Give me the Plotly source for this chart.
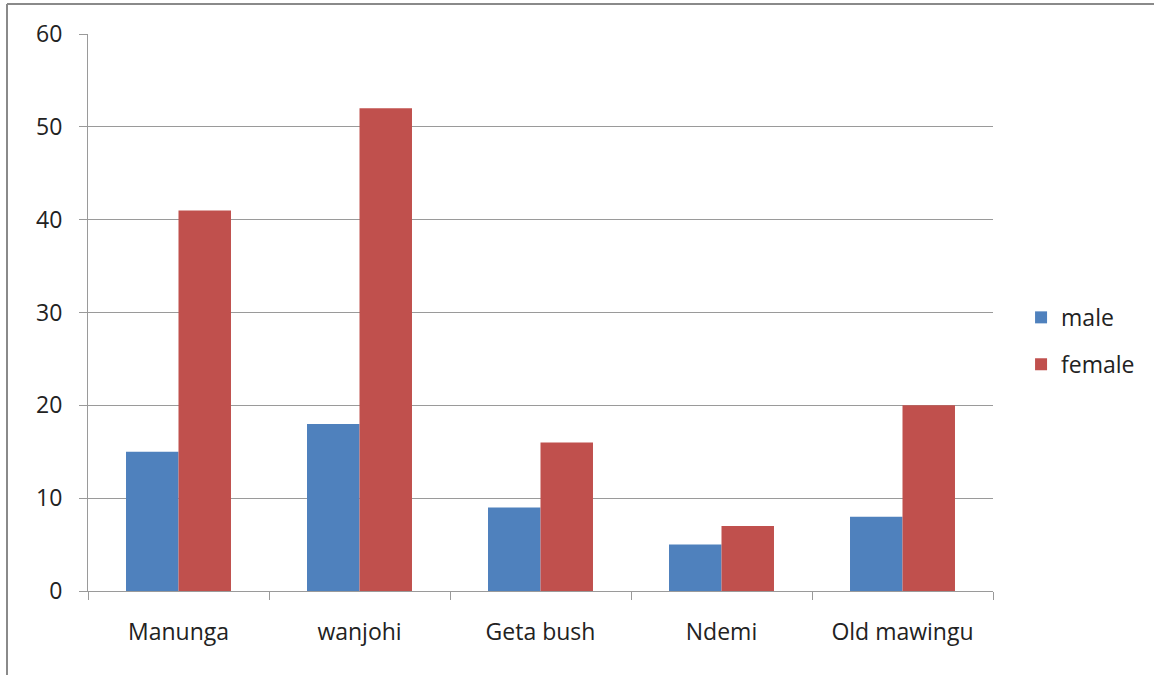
import plotly.graph_objects as go

# Respondents per site, split by gender
sites = ["Manunga", "wanjohi", "Geta bush", "Ndemi", "Old mawingu"]
male = [15, 18, 9, 5, 8]
female = [41, 52, 16, 7, 20]
y_ticks = [0, 10, 20, 30, 40, 50, 60]

FONT = "Open Sans, Calibri, sans-serif"
GRID = "#9a9a9a"

fig = go.Figure()
fig.add_trace(go.Bar(name="male", x=sites, y=male, marker=dict(color="#4F81BD", line=dict(width=0)),
                     legendgroup="m"))
fig.add_trace(go.Bar(name="female", x=sites, y=female, marker=dict(color="#C0504D", line=dict(width=0)),
                     legendgroup="f"))

fig.update_layout(
    width=1154, height=675,
    margin=dict(l=88, r=161, t=34, b=84),
    paper_bgcolor="white", plot_bgcolor="white",
    barmode="group", bargap=0.42, bargroupgap=0,
    font=dict(family=FONT, size=23, color="#222222"),
    showlegend=True,
    legend=dict(x=1.031, y=0.449, xanchor="left", yanchor="middle",
                tracegroupgap=14, font=dict(size=23), itemwidth=30),
    xaxis=dict(showline=True, linecolor=GRID, linewidth=1, ticks="outside",
               tickson="boundaries", ticklen=8, tickcolor=GRID, showgrid=False,
               tickfont=dict(size=23), ticklabelstandoff=20),
    yaxis=dict(range=[0, 60], tickvals=y_ticks, showline=True, linecolor=GRID, linewidth=1,
               ticks="outside", ticklen=8, tickcolor=GRID, showgrid=True, gridcolor=GRID,
               gridwidth=1, zeroline=False, tickfont=dict(size=23), ticklabelstandoff=12),
)

# Frame around the chart (left and top edges)
fig.add_shape(type="line", xref="paper", yref="paper", x0=-0.0895, x1=-0.0895, y0=-0.2, y1=1.054,
              line=dict(color="#8a8a8a", width=2))
fig.add_shape(type="line", xref="paper", yref="paper", x0=-0.0895, x1=1.2, y0=1.054, y1=1.054,
              line=dict(color="#8a8a8a", width=2))

fig.write_html("out.html")
